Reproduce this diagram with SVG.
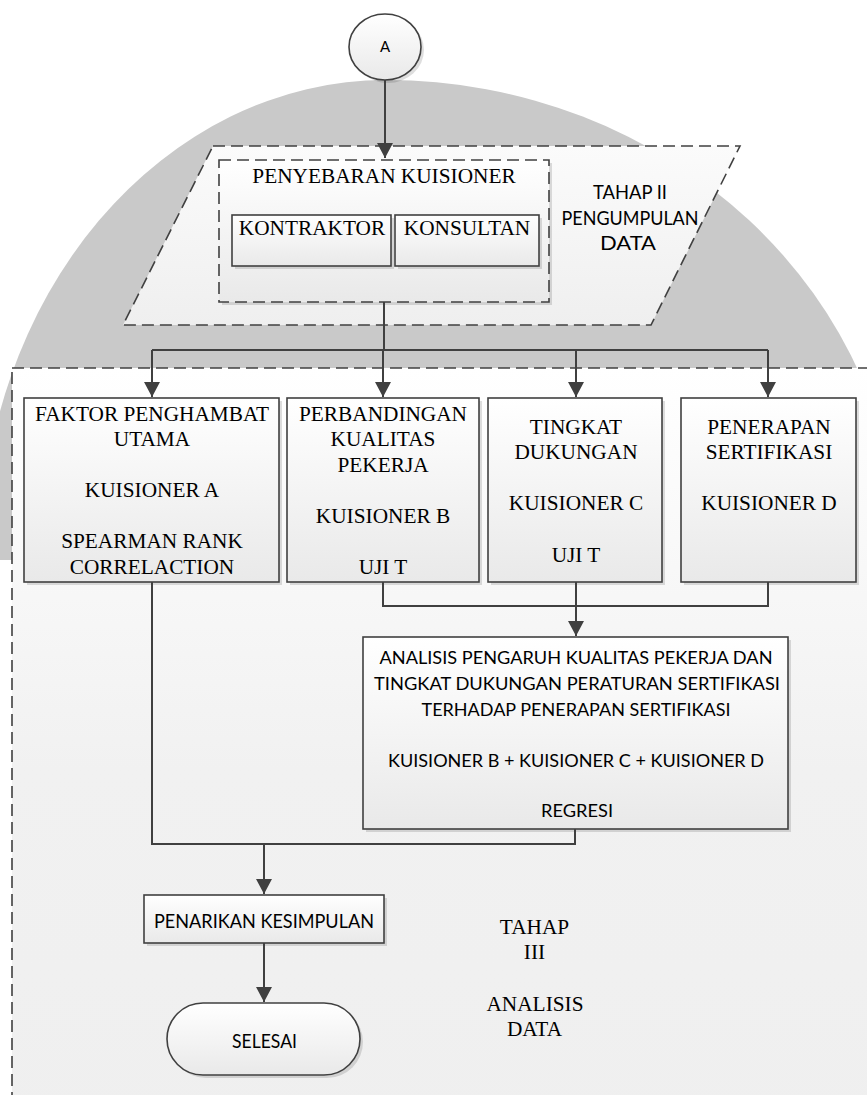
<svg xmlns="http://www.w3.org/2000/svg" width="867" height="1095" viewBox="0 0 867 1095">
<defs>
<style>
.ln{fill:none;stroke:#404040;stroke-width:2}
.box{fill:url(#gBox);stroke:#404040;stroke-width:1.6}
.dash{stroke:#404040;stroke-width:1.6;stroke-dasharray:12 6}
.sh{fill:#000;opacity:0.13}
.serif{font-family:"Liberation Serif","Times New Roman",serif;font-size:21.3px;fill:#000;text-anchor:middle}
.sans{font-family:Lato,"Liberation Sans",sans-serif;fill:#000;text-anchor:middle}
</style>
<linearGradient id="gBox" x1="0" y1="0" x2="0" y2="1">
<stop offset="0" stop-color="#ffffff"/>
<stop offset="1" stop-color="#e9e9e9"/>
</linearGradient>
<linearGradient id="gPar" x1="0" y1="0" x2="0" y2="1">
<stop offset="0" stop-color="#fbfbfb"/>
<stop offset="1" stop-color="#efefef"/>
</linearGradient>
<linearGradient id="gBig" x1="0" y1="0" x2="0" y2="1">
<stop offset="0" stop-color="#ffffff"/>
<stop offset="0.5" stop-color="#f1f1f1"/>
<stop offset="1" stop-color="#efefef"/>
</linearGradient>
<marker id="arr" markerUnits="userSpaceOnUse" markerWidth="16" markerHeight="16" refX="15" refY="8" orient="auto">
<path d="M0,0 L15,8 L0,16 Z" fill="#404040"/>
</marker>
</defs>
<rect x="0" y="0" width="867" height="1095" fill="#ffffff"/>
<g id="watermark">
<path d="M-20,560 A406,480 0 0 1 386,80 A514,480 0 0 1 900,560 Z" fill="#c9c9c9"/>
</g>
<g id="tahap3-area">
<rect x="12" y="368" width="900" height="800" fill="url(#gBig)" class="dash"/>
</g>
<g id="tahap2">
<polygon points="213,146 740,146 651,325 123,325" fill="url(#gPar)" class="dash"/>
<text class="sans" font-size="19.5" x="630" y="199" textLength="74" lengthAdjust="spacingAndGlyphs">TAHAP II</text>
<text class="sans" font-size="19.5" x="630" y="225" textLength="137" lengthAdjust="spacingAndGlyphs">PENGUMPULAN</text>
<text class="sans" font-size="19.5" x="628" y="250" textLength="56" lengthAdjust="spacingAndGlyphs">DATA</text>
</g>
<g id="nodeA">
<ellipse cx="388" cy="50" rx="36" ry="33" class="sh"/>
<ellipse cx="385" cy="47" rx="36" ry="33" class="box"/>
<text class="sans" font-size="15" x="385" y="52">A</text>
</g>
<g id="penyebaran">
<rect x="222" y="163" width="330" height="142" class="sh"/>
<rect x="219" y="160" width="330" height="142" fill="url(#gBox)" class="dash"/>
<text class="serif" x="384" y="183">PENYEBARAN KUISIONER</text>
</g>
<g id="kontraktor">
<rect x="235" y="218" width="159" height="51" class="sh"/>
<rect x="232" y="215" width="159" height="51" class="box"/>
<text class="serif" x="312" y="235">KONTRAKTOR</text>
</g>
<g id="konsultan">
<rect x="398" y="218" width="144" height="51" class="sh"/>
<rect x="395" y="215" width="144" height="51" class="box"/>
<text class="serif" x="467" y="235">KONSULTAN</text>
</g>
<g id="faktor">
<rect x="27" y="401" width="255" height="184" class="sh"/>
<rect x="24" y="398" width="255" height="184" class="box"/>
<text class="serif" x="152" y="421">FAKTOR PENGHAMBAT</text>
<text class="serif" x="152" y="446">UTAMA</text>
<text class="serif" x="152" y="497">KUISIONER A</text>
<text class="serif" x="152" y="548">SPEARMAN RANK</text>
<text class="serif" x="152" y="574">CORRELACTION</text>
</g>
<g id="perbandingan">
<rect x="290" y="401" width="192" height="184" class="sh"/>
<rect x="287" y="398" width="192" height="184" class="box"/>
<text class="serif" x="383" y="421">PERBANDINGAN</text>
<text class="serif" x="383" y="446">KUALITAS</text>
<text class="serif" x="383" y="472">PEKERJA</text>
<text class="serif" x="383" y="523">KUISIONER B</text>
<text class="serif" x="383" y="574">UJI T</text>
</g>
<g id="tingkat">
<rect x="491" y="401" width="174" height="184" class="sh"/>
<rect x="488" y="398" width="174" height="184" class="box"/>
<text class="serif" x="576" y="434">TINGKAT</text>
<text class="serif" x="576" y="459">DUKUNGAN</text>
<text class="serif" x="576" y="510">KUISIONER C</text>
<text class="serif" x="576" y="562">UJI T</text>
</g>
<g id="penerapan">
<rect x="684" y="401" width="175" height="184" class="sh"/>
<rect x="681" y="398" width="175" height="184" class="box"/>
<text class="serif" x="769" y="434">PENERAPAN</text>
<text class="serif" x="769" y="459">SERTIFIKASI</text>
<text class="serif" x="769" y="510">KUISIONER D</text>
</g>
<g id="analisis">
<rect x="366" y="640" width="425" height="192" class="sh"/>
<rect x="363" y="637" width="425" height="192" class="box"/>
<text class="sans" font-size="17.5" x="576" y="664" textLength="393" lengthAdjust="spacingAndGlyphs">ANALISIS PENGARUH KUALITAS PEKERJA DAN</text>
<text class="sans" font-size="17.5" x="577" y="690" textLength="406" lengthAdjust="spacingAndGlyphs">TINGKAT DUKUNGAN PERATURAN SERTIFIKASI</text>
<text class="sans" font-size="17.5" x="576" y="716" textLength="309" lengthAdjust="spacingAndGlyphs">TERHADAP PENERAPAN SERTIFIKASI</text>
<text class="sans" font-size="17.5" x="576" y="767" textLength="376" lengthAdjust="spacingAndGlyphs">KUISIONER B + KUISIONER C + KUISIONER D</text>
<text class="sans" font-size="17.5" x="577" y="817" textLength="72" lengthAdjust="spacingAndGlyphs">REGRESI</text>
</g>
<g id="penarikan">
<rect x="147" y="898" width="240" height="48" class="sh"/>
<rect x="144" y="895" width="240" height="48" class="box"/>
<text class="sans" font-size="20" x="264" y="928" textLength="220" lengthAdjust="spacingAndGlyphs">PENARIKAN KESIMPULAN</text>
</g>
<g id="selesai">
<rect x="170" y="1006" width="193" height="72" rx="36" class="sh"/>
<rect x="167" y="1003" width="193" height="72" rx="36" class="box"/>
<text class="sans" font-size="20" x="264.5" y="1048" textLength="65" lengthAdjust="spacingAndGlyphs">SELESAI</text>
</g>
<g id="label-tahap3">
<text class="serif" x="534.5" y="934">TAHAP</text>
<text class="serif" x="534.5" y="959">III</text>
<text class="serif" x="535" y="1011">ANALISIS</text>
<text class="serif" x="534.5" y="1036">DATA</text>
</g>
<g id="connectors">
<path class="ln" d="M385,80 V158" marker-end="url(#arr)"/>
<path class="ln" d="M384,302 V350"/>
<path class="ln" d="M152,350 H768"/>
<path class="ln" d="M152,350 V397" marker-end="url(#arr)"/>
<path class="ln" d="M383,350 V397" marker-end="url(#arr)"/>
<path class="ln" d="M576,350 V397" marker-end="url(#arr)"/>
<path class="ln" d="M768,350 V397" marker-end="url(#arr)"/>
<path class="ln" d="M383,582 V606 H768 V582"/>
<path class="ln" d="M576,582 V636" marker-end="url(#arr)"/>
<path class="ln" d="M152,582 V844 H575 V829"/>
<path class="ln" d="M264,844 V894" marker-end="url(#arr)"/>
<path class="ln" d="M264,943 V1002" marker-end="url(#arr)"/>
</g>
</svg>
